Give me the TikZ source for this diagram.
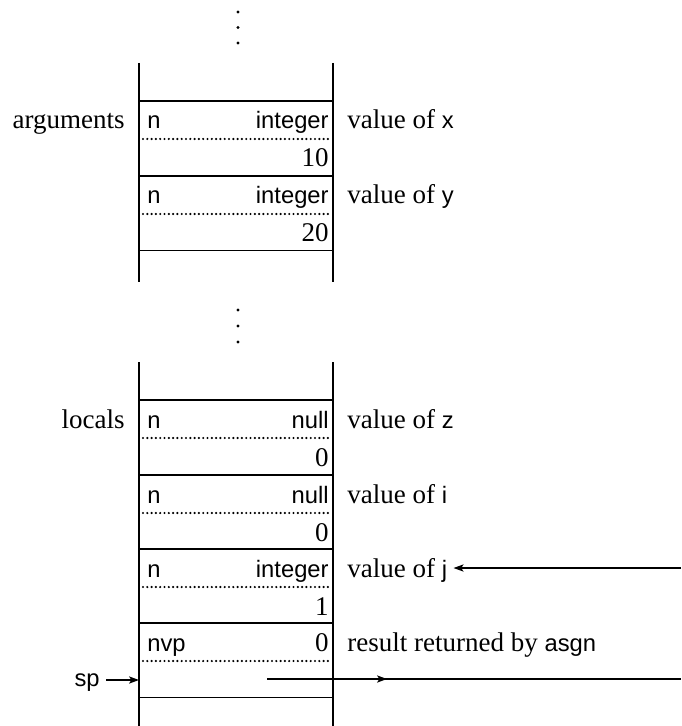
\documentclass[tikz,border=0pt]{standalone}
\usepackage{fontspec}
\setmainfont{Liberation Serif}
\setsansfont{Liberation Sans}[Scale=0.88]
\usetikzlibrary{arrows.meta}
\newcommand{\stacksize}{\fontsize{13.5pt}{16pt}\selectfont}

\begin{document}
\begin{tikzpicture}[x=0.5pt, y=-0.5pt,
    cell/.style={draw, line width=0.6pt, minimum width=97pt,
                 minimum height=37.25pt, inner sep=0pt, outer sep=0pt,
                 anchor=north west},
    wall/.style={line width=0.6pt},
    sep/.style={line width=1.2pt, line cap=round,
                dash pattern=on 0pt off 2.15pt},
    txt/.style={font=\stacksize, inner sep=3pt},
    fld/.style={txt, font=\stacksize\sffamily, anchor=base west},
    val/.style={txt, anchor=base east},
    note/.style={txt, anchor=base west},
    side/.style={txt, anchor=base east},
    arr/.style={line width=0.6pt,
                -{Stealth[length=5pt, width=3.6pt, inset=1.2pt]}}
]
\useasboundingbox (0,0) rectangle (681,726);

% the two pieces of the stack
\draw[wall] (139,63) -- (139,282) (333,63) -- (333,282);
\draw[wall] (139,362) -- (139,726) (333,362) -- (333,726);
\foreach \d in {12,27.5,43,310,326,342}
    \fill (238,\d) circle (0.8pt);

\foreach \nm/\ytop/\lft/\rgt/\val/\txt in {
    argx/101/n/\sffamily integer/10/value of \textsf{x},
    argy/176/n/\sffamily integer/20/value of \textsf{y},
    locz/400/n/\sffamily null/0/value of \textsf{z},
    loci/475/n/\sffamily null/0/value of \textsf{i},
    locj/549/n/\sffamily integer/1/value of \textsf{j},
    res/623/nvp/0//result returned by \textsf{asgn}}
{
    \node[cell] (\nm) at (139,\ytop) {};
    \node[fld] (\nm-tag) at (141,{\ytop+28}) {\lft};
    \node[val] (\nm-type) at (335,{\ytop+28}) {\rgt};
    \draw[sep] (143,{\ytop+38}) -- (331,{\ytop+38});
    \node[val] (\nm-val) at (335,{\ytop+66}) {\val};
    \node[note] (\nm-note) at (341,{\ytop+28}) {\txt};
}

\node[side] (args) at (131,129) {arguments};
\node[side] (locals) at (131,428) {locals};

% stack pointer
\coordinate (spt) at (139,680);
\node[fld, anchor=base east] (sp) at (106,686) {sp};
\draw[arr] (sp.east |- spt) -- (spt);

% result goes out, j comes in
\coordinate (ret) at (267,679);
\coordinate (retmid) at (387,679);
\coordinate (retout) at (681,679);
\draw[wall] (ret) -- (retout);
\draw[arr] (ret) -- (retmid);

\coordinate (jin) at (681,568);
\draw[arr] (jin) -- (jin -| locj-note.east);

\end{tikzpicture}
\end{document}
